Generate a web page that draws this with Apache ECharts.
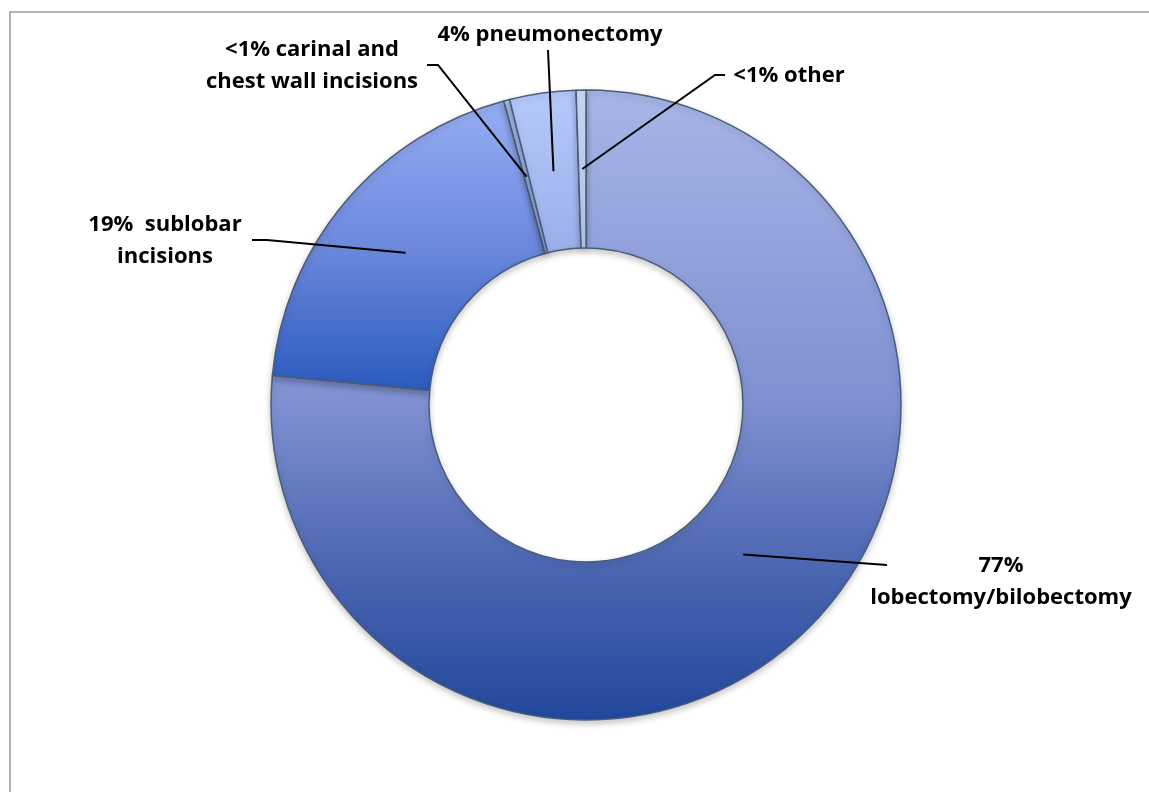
<!DOCTYPE html>
<html>
<head>
<meta charset="utf-8">
<script src="https://cdn.jsdelivr.net/npm/echarts@6/dist/echarts.min.js"></script>
<style>
  html, body { margin: 0; padding: 0; background: #fff; }
  #chart { width: 1149px; height: 792px; }
</style>
</head>
<body>
<div id="chart"></div>
<script>
// data, clockwise from 12 o'clock
const categories = ['lobectomy/bilobectomy', 'sublobar incisions', 'carinal and chest wall incisions', 'pneumonectomy', 'other'];
const shares = [76.5, 19.3, 0.3, 3.4, 0.5];
const labelTexts = ['77%\nlobectomy/bilobectomy', '19%  sublobar\nincisions', '<1% carinal and\nchest wall incisions', '4% pneumonectomy', '<1% other'];

// slice fills (top -> bottom of each slice)
const sliceStops = [
  [[0, '#A7B5E7'], [0.5, '#7F8FD1'], [0.75, '#4D67B2'], [1, '#22479B']],
  [[0, '#96AEF4'], [0.5, '#6C88DD'], [1, '#2A5BBE']],
  [[0, '#B0C3F6'], [1, '#98ADEA']],
  [[0, '#B6C9FC'], [1, '#9AAFEB']],
  [[0, '#D0DBFA'], [1, '#BACAF2']]
];

// where the labels sit and how the leader lines bend
const labelPos = [
  { x: 1001, y: 582, anchorR: 0.38, anchorA: 0.485, bends: [[887, 565]] },
  { x: 165, y: 241, anchorR: 0.5, anchorA: 0.5, bends: [[267, 240], [252, 240]] },
  { x: 312, y: 66, anchorR: 0.5, anchorA: 0.5, bends: [[438, 65], [427, 65]] },
  { x: 550, y: 35, anchorR: 0.5, anchorA: 0.5, bends: [[548, 50]] },
  { x: 789, y: 76, anchorR: 0.5, anchorA: 0.5, bends: [[715, 75], [725, 75]] }
];

var chart = echarts.init(document.getElementById('chart'));

function gradient(stops) {
  return new echarts.graphic.LinearGradient(0, 0, 0, 1, stops.map(function (s) {
    return { offset: s[0], color: s[1] };
  }));
}

// point inside the ring where a leader line starts, from the pie's own layout
function anchorOf(idx) {
  var data = chart.getModel().getSeriesByIndex(1).getData();
  var l = data.getItemLayout(idx);
  var p = labelPos[idx];
  var a = l.startAngle + (l.endAngle - l.startAngle) * p.anchorA;
  var r = l.r0 + (l.r - l.r0) * p.anchorR;
  return [l.cx + r * Math.cos(a), l.cy + r * Math.sin(a)];
}

var ringCenter = [586, 405];
var ringRadius = [157, 315];

var option = {
  backgroundColor: '#fff',
  animation: false,
  graphic: [{
    type: 'rect',
    shape: { x: 10, y: 12, width: 1300, height: 900 },
    style: { fill: 'none', stroke: '#9A9A9A', lineWidth: 1.5 },
    silent: true
  }],
  series: [{
    // the ring itself
    type: 'pie',
    z: 2,
    center: ringCenter,
    radius: ringRadius,
    startAngle: 90,
    clockwise: true,
    emphasis: { disabled: true },
    itemStyle: {
      borderColor: '#4A5D78',
      borderWidth: 1.5,
      shadowBlur: 6,
      shadowOffsetY: 3,
      shadowColor: 'rgba(0,0,0,0.22)'
    },
    label: { show: false },
    labelLine: { show: false },
    data: categories.map(function (name, i) {
      return { name: name, value: shares[i], itemStyle: { color: gradient(sliceStops[i]) } };
    })
  }, {
    // same ring, invisible, on top so the leader lines cross the slices
    type: 'pie',
    z: 3,
    silent: true,
    center: ringCenter,
    radius: ringRadius,
    startAngle: 90,
    clockwise: true,
    avoidLabelOverlap: false,
    emphasis: { disabled: true },
    itemStyle: { color: 'rgba(0,0,0,0)', borderWidth: 0 },
    label: {
      show: true,
      position: 'outside',
      color: '#000',
      fontFamily: 'Open Sans',
      fontWeight: 'bold',
      fontSize: 22,
      lineHeight: 32,
      align: 'center',
      formatter: function (p) { return labelTexts[p.dataIndex]; }
    },
    labelLine: {
      show: true,
      smooth: false,
      lineStyle: { color: '#000', width: 2 }
    },
    labelLayout: function (params) {
      var p = labelPos[params.dataIndex];
      var pts = [anchorOf(params.dataIndex)].concat(p.bends);
      return {
        x: p.x,
        y: p.y,
        align: 'center',
        verticalAlign: 'middle',
        labelLinePoints: pts
      };
    },
    data: categories.map(function (name, i) {
      return { name: name, value: shares[i] };
    })
  }]
};

chart.setOption(option);
</script>
</body>
</html>
